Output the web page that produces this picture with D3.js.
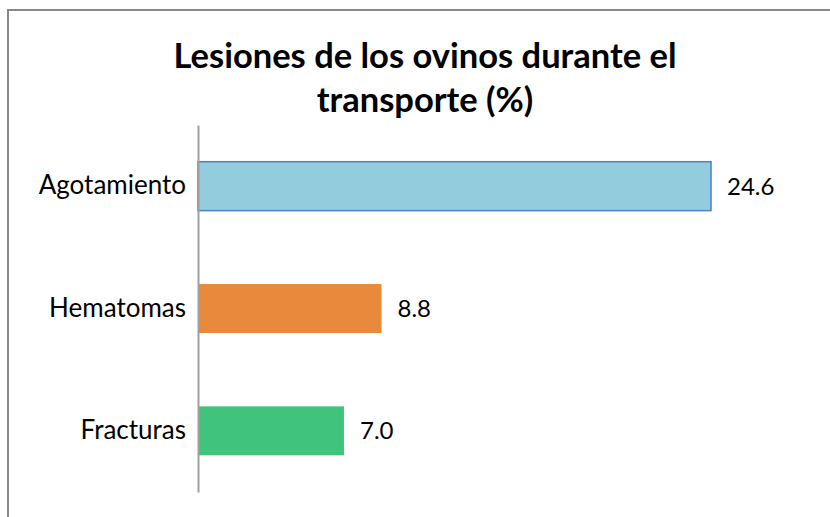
<!DOCTYPE html>
<html>
<head>
<meta charset="utf-8">
<script src="https://cdn.jsdelivr.net/npm/d3@7"></script>
<style>
  body { margin: 0; background: #fff; }
  svg text { font-family: Lato, "Open Sans", sans-serif; }
</style>
</head>
<body>
<div id="grafico"></div>
<script>
const categories = ["Agotamiento", "Hematomas", "Fracturas"];
const values     = [24.6, 8.8, 7.0];
const barColors  = ["#93CDDD", "#E8893B", "#40C47C"];
const barStrokes = ["#4F81BD", "none", "none"];
const titleLines = ["Lesiones de los ovinos durante el", "transporte (%)"];

const W = 830, H = 517;
const margin = { top: 125, left: 198, bottom: 25, right: 119 };
const width  = W - margin.left - margin.right;
const height = H - margin.top - margin.bottom;

const root = d3.select("#grafico")
               .append("svg")
               .attr("width", W)
               .attr("height", H);

// outer frame of the chart area
root.append("rect")
    .attr("x", 8)
    .attr("y", 10)
    .attr("width", W)
    .attr("height", H)
    .attr("fill", "none")
    .attr("stroke", "#878787")
    .attr("stroke-width", 2);

root.append("text")
    .attr("x", 425)
    .attr("y", 68)
    .attr("text-anchor", "middle")
    .style("font-weight", "bold")
    .style("font-size", "34.5px")
    .selectAll("tspan")
    .data(titleLines)
    .join("tspan")
    .attr("x", 425)
    .attr("dy", (d, i) => i === 0 ? 0 : 44)
    .text(d => d);

const svg = root.append("g")
                .attr("transform", `translate(${margin.left}, ${margin.top})`);

const xScale = d3.scaleLinear()
                 .domain([0, 24.6])
                 .range([0, 513]);

const yScale = d3.scaleBand()
                 .domain(categories)
                 .range([0, height])
                 .paddingInner(0.6)
                 .paddingOuter(0.3);

svg.selectAll("rect.bar")
   .data(values)
   .join("rect")
   .attr("class", "bar")
   .attr("x", 0)
   .attr("y", (d, i) => yScale(categories[i]))
   .attr("width", d => xScale(d))
   .attr("height", yScale.bandwidth())
   .attr("fill", (d, i) => barColors[i])
   .attr("stroke", (d, i) => barStrokes[i])
   .attr("stroke-width", 1.5);

svg.selectAll("text.val")
   .data(values)
   .join("text")
   .attr("class", "val")
   .attr("x", d => xScale(d) + 16)
   .attr("y", (d, i) => yScale(categories[i]) + yScale.bandwidth() / 2)
   .attr("dy", "0.35em")
   .style("font-size", "24px")
   .attr("fill", "#000")
   .text(d => d.toFixed(1));

const yAxisCall = d3.axisLeft(yScale).tickSize(0).tickPadding(12);

const yAxis = svg.append("g").call(yAxisCall);
yAxis.select(".domain")
     .attr("stroke", "#A0A0A0")
     .attr("stroke-width", 2);
yAxis.selectAll("text")
     .style("font-size", "26px")
     .style("font-family", "Lato, 'Open Sans', sans-serif")
     .attr("fill", "#000");
</script>
</body>
</html>
